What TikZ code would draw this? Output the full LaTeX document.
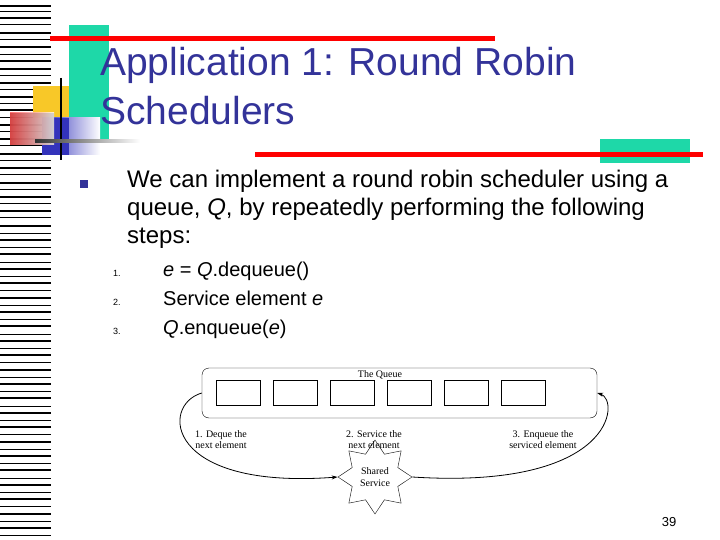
\documentclass[tikz,border=0pt]{standalone}
\usepackage{fontspec}
\setmainfont{Liberation Serif}
\setsansfont{Liberation Sans}
\usetikzlibrary{shapes.geometric,arrows.meta}
\definecolor{tblue}{HTML}{333399}
\definecolor{teal1}{HTML}{1ED8A8}
\definecolor{yel}{HTML}{F8C828}
\definecolor{dblue}{HTML}{3333BB}
\tikzset{
 lbl/.style={font=\fontsize{10}{11}\selectfont, align=center, inner sep=0},
 qbox/.style={draw, minimum width=44pt, minimum height=25pt, inner sep=0},
 arr/.style={-{Stealth[length=6pt,width=4pt]}, thick}
}
\begin{document}
\begin{tikzpicture}[x=1pt,y=-1pt]
\useasboundingbox (0,0) rectangle (720,540);
% barcode
\foreach \y/\w in {6/2,12/1,18/2,25/1,33/2,40/1,47/2,55/1,61/2,69/1.5,76/1,83/2,90/1,97/2,104/1,110/2,118/1,125/2,132/1,139/2,146/1,154/2,161/1,168/2,175/1,183/2,190/1,197/2,204/1,211/2,218/1,226/2,233/1,240/2,247/1,254/2,262/1,269/2,276/1,283/2,290/1,298/2,305/1,312/2,319/1,326/2,334/1,341/2,348/1,355/2,362/1,370/2,377/1,384/2,391/1,398/2,406/1,413/2,420/1,427/2,434/1,442/2,449/1,456/2,463/1,470/2,478/1,485/2,492/1,499/2,506/1,514/2,521/1,528/2,535/1}
  \draw[line width=\w pt] (0,\y) -- (51,\y);
% decoration
\fill[teal1] (69,25) rectangle (109,140);
\fill[yel] (33,86) rectangle (69,118);
\fill[left color=dblue, right color=white] (42,118) rectangle (100,155);
\fill[dblue] (42,118) rectangle (69,155);
\fill[left color=red!70, right color=white, opacity=0.8] (10,113) rectangle (54,145);
\fill[red] (50,36) rectangle (495,41);
\draw[line width=2pt] (61,78) -- (61,160);
\shade[left color=black!80, right color=white] (35,140) rectangle (140,143);
\fill[teal1] (600,139) rectangle (690,163);
\fill[red] (255,152) rectangle (703,157);
% title
\node[anchor=north west, text=tblue, font=\sffamily\fontsize{39}{49}\selectfont, align=left, inner sep=0] (title) at (100,47) {Application 1: Round Robin\\Schedulers};
% bullet
\fill[tblue] (80,180) rectangle (88,188);
\node[anchor=north west, font=\sffamily\fontsize{24}{28}\selectfont, align=left, inner sep=0] (body) at (127,170)
 {We can implement a round robin scheduler using a\\queue, \textit{Q}, by repeatedly performing the following\\steps:};
\foreach \i/\y/\t in {1/276/{\textit{e} = \textit{Q}.dequeue()},2/305/{Service element \textit{e}},3/334/{\textit{Q}.enqueue(\textit{e})}}{
  \node[anchor=base west, font=\sffamily\fontsize{9}{10}\selectfont, inner sep=0] at (113,\y) {\i.};
  \node[anchor=base west, font=\sffamily\fontsize{20}{22}\selectfont, inner sep=0] at (163,\y) {\t};
}
% diagram
\node[draw, rounded corners=7pt, minimum width=395pt, minimum height=50pt, inner sep=0] (queue) at (399.5,393) {};
\node[lbl] (qt) at (380,375) {The Queue};
\foreach \x [count=\i] in {238,295,352,409,466,523}
  \node[qbox] (b\i) at (\x,392.5) {};
\node[draw, star, star points=8, star point ratio=1.5, minimum size=74pt, inner sep=0, font=\fontsize{10}{12}\selectfont, align=center] (star) at (375,477) {Shared\\Service};
\draw[arr] (queue.west) .. controls (160,405) and (165,490) .. (star.west);
\draw[arr] (star.east) .. controls (615,490) and (620,400) .. (queue.east);
\node[lbl] (l1) at (221,440) {1. Deque the\\next element};
\node[lbl] (l2) at (374,440) {2. Service the\\next element};
\node[lbl] (l3) at (543,440) {3. Enqueue the\\serviced element};
\node[font=\sffamily\fontsize{13}{14}\selectfont] (pg) at (669,522) {39};
\end{tikzpicture}
\end{document}
